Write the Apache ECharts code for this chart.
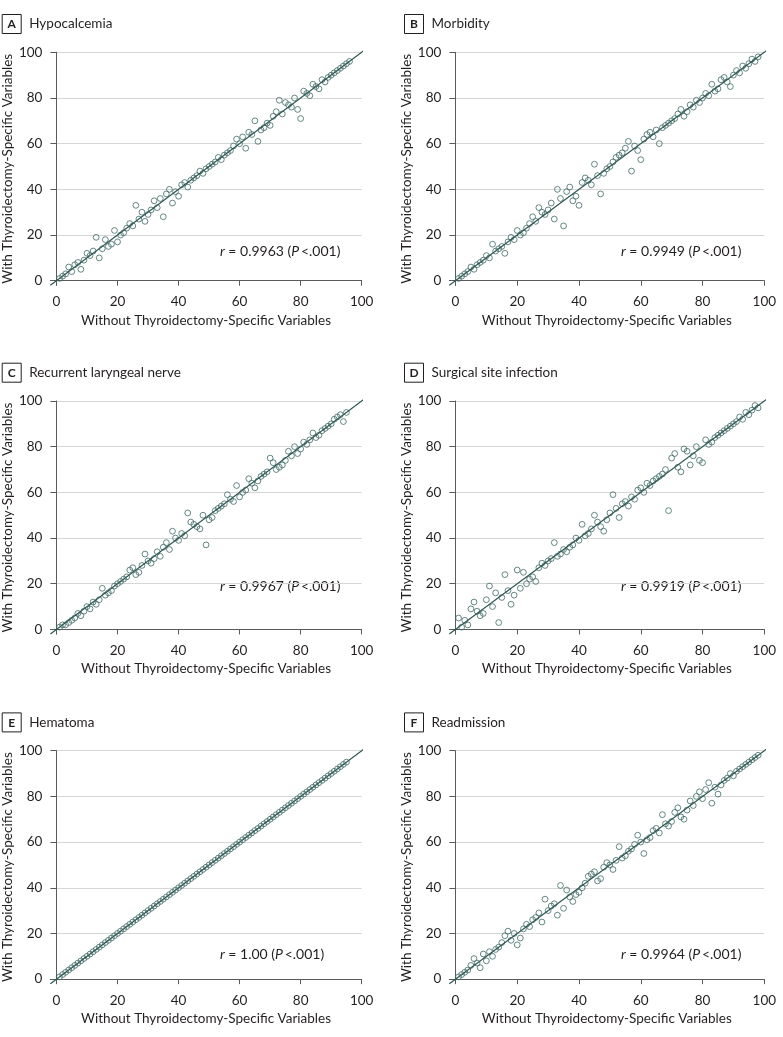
<!DOCTYPE html>
<html>
<head>
<meta charset="utf-8">
<script src="https://cdn.jsdelivr.net/npm/echarts@6/dist/echarts.min.js"></script>
<style>
html,body{margin:0;padding:0;background:#fff;}
#chart{width:783px;height:1037px;}
</style>
</head>
<body>
<div id="chart"></div>
<script>
// ---------------- DATA ----------------
const panelLetters = ['A','B','C','D','E','F'];
const panelTitles = ['Hypocalcemia','Morbidity','Recurrent laryngeal nerve','Surgical site infection','Hematoma','Readmission'];
const rValues = ['0.9963','0.9949','0.9967','0.9919','1.00','0.9964'];
const pText = '.001';
const xAxisName = 'Without Thyroidectomy-Specific Variables';
const yAxisName = 'With Thyroidectomy-Specific Variables';
const tickValues = [0,20,40,60,80,100];
const axisRange = [-2,100];
const identityLine = [-2,101.8];

const hypoX = [1,2,3,4,5,6,7,8,9,10,11,12,13,14,15,16,17,18,19,20,21,22,23,24,25,26,27,28,29,30,31,32,33,34,35,36,37,38,39,40,41,42,43,44,45,46,47,48,49,50,51,52,53,54,55,56,57,58,59,60,61,62,63,64,65,66,67,68,69,70,71,72,73,74,75,76,77,78,79,80,81,82,83,84,85,86,87,88,89,90,91,92,93,94,95,96];
const hypoY = [1,2,3,6,4,7,8,5,9,12,11,13,19,10,14,18,15,16,22,17,20,21,23,25,24,33,27,30,26,29,31,35,32,36,28,38,40,34,39,37,42,43,41,44,45,46,48,47,49,50,51,52,54,53,55,56,57,59,62,60,63,58,65,64,70,61,66,67,69,68,72,74,79,73,78,77,76,80,75,71,83,82,81,86,85,84,88,87,89,90,91,92,93,94,95,96];

const morbX = [1,2,3,4,5,6,7,8,9,10,11,12,13,14,15,16,17,18,19,20,21,22,23,24,25,26,27,28,29,30,31,32,33,34,35,36,37,38,39,40,41,42,43,44,45,46,47,48,49,50,51,52,53,54,55,56,57,58,59,60,61,62,63,64,65,66,67,68,69,70,71,72,73,74,75,76,77,78,79,80,81,82,83,84,85,86,87,88,89,90,91,92,93,94,95,96,97,98];
const morbY = [1,2,3,4,6,5,7,8,9,11,10,16,13,14,15,12,17,19,18,22,20,21,23,25,28,26,32,30,29,31,34,27,40,36,24,39,41,35,37,33,43,45,44,42,51,46,38,47,49,50,52,54,55,56,58,61,48,59,57,53,62,64,65,63,66,60,67,68,69,70,71,73,75,72,74,77,76,79,78,80,82,81,86,83,84,88,89,87,85,90,92,91,94,93,95,97,96,98];

const rlnX = [1,2,3,4,5,6,7,8,9,10,11,12,13,14,15,16,17,18,19,20,21,22,23,24,25,26,27,28,29,30,31,32,33,34,35,36,37,38,39,40,41,42,43,44,45,46,47,48,49,50,51,52,53,54,55,56,57,58,59,60,61,62,63,64,65,66,67,68,69,70,71,72,73,74,75,76,77,78,79,80,81,82,83,84,85,86,87,88,89,90,91,92,93,94,95];
const rlnY = [1,2,2,3,4,5,7,6,8,10,9,12,11,13,18,15,16,17,19,20,21,22,23,26,27,24,25,28,33,30,29,31,34,32,36,38,35,43,40,39,42,41,51,47,46,45,44,50,37,48,49,52,53,54,55,59,57,56,63,58,60,61,66,64,62,65,67,68,69,75,73,70,71,72,74,78,76,80,77,79,82,81,83,86,84,85,87,88,89,90,92,93,94,91,95];

const ssiX = [1,2,3,4,5,6,7,8,9,10,11,12,13,14,15,16,17,18,19,20,21,22,23,24,25,26,27,28,29,30,31,32,33,34,35,36,37,38,39,40,41,42,43,44,45,46,47,48,49,50,51,52,53,54,55,56,57,58,59,60,61,62,63,64,65,66,67,68,69,70,71,72,73,74,75,76,77,78,79,80,81,82,83,84,85,86,87,88,89,90,91,92,93,94,95,96,97,98];
const ssiY = [5,1,4,2,9,12,8,6,7,13,19,10,16,3,14,24,17,11,15,26,18,25,20,22,23,21,27,29,28,30,31,38,32,33,35,34,36,37,40,39,46,41,42,44,50,47,45,43,48,51,59,53,49,55,56,54,58,57,61,62,60,64,63,65,66,67,68,70,52,75,77,71,69,79,78,72,76,80,74,73,83,81,82,84,85,86,87,88,89,90,91,93,92,95,94,96,98,97];

const hemaX = [1,2,3,4,5,6,7,8,9,10,11,12,13,14,15,16,17,18,19,20,21,22,23,24,25,26,27,28,29,30,31,32,33,34,35,36,37,38,39,40,41,42,43,44,45,46,47,48,49,50,51,52,53,54,55,56,57,58,59,60,61,62,63,64,65,66,67,68,69,70,71,72,73,74,75,76,77,78,79,80,81,82,83,84,85,86,87,88,89,90,91,92,93,94,95];
const hemaY = [1,2,3,4,5,6,7,8,9,10,11,12,13,14,15,16,17,18,19,20,21,22,23,24,25,26,27,28,29,30,31,32,33,34,35,36,37,38,39,40,41,42,43,44,45,46,47,48,49,50,51,52,53,54,55,56,57,58,59,60,61,62,63,64,65,66,67,68,69,70,71,72,73,74,75,76,77,78,79,80,81,82,83,84,85,86,87,88,89,90,91,92,93,94,95];

const readX = [1,2,3,4,5,6,7,8,9,10,11,12,13,14,15,16,17,18,19,20,21,22,23,24,25,26,27,28,29,30,31,32,33,34,35,36,37,38,39,40,41,42,43,44,45,46,47,48,49,50,51,52,53,54,55,56,57,58,59,60,61,62,63,64,65,66,67,68,69,70,71,72,73,74,75,76,77,78,79,80,81,82,83,84,85,86,87,88,89,90,91,92,93,94,95,96,97,98];
const readY = [1,2,3,4,6,9,7,5,11,8,12,10,13,14,16,19,21,17,20,15,18,22,24,23,26,27,29,25,35,30,32,33,28,41,31,39,36,34,37,38,40,42,45,46,47,43,44,49,51,50,48,52,58,53,54,56,57,59,63,60,55,61,62,65,66,64,72,68,67,69,73,75,71,70,74,78,76,80,82,79,83,86,77,84,81,85,87,88,90,89,91,92,93,94,95,96,97,98];

const panelX = [hypoX, morbX, rlnX, ssiX, hemaX, readX];
const panelY = [hypoY, morbY, rlnY, ssiY, hemaY, readY];

// ---------------- LAYOUT ----------------
const FONT = 'Lato, "Liberation Sans", sans-serif';
const TXT = '#231f20';
const AXC = '#5a5a5a';
const colLeft = [46.7, 449.3];
const rowTop = [52.3, 401, 750.7];
const gridW = 315, gridH = 233;
const annoPos = [[220,251.7],[621,251.7],[220,586.7],[621,586.7],[220,954],[621,954]];

const grids=[], xAxes=[], yAxes=[], series=[], graphics=[];
for (let i=0;i<6;i++){
  const c=i%2, r=Math.floor(i/2);
  const left=colLeft[c], top=rowTop[r];
  grids.push({left:left, top:top, width:gridW, height:gridH, containLabel:false});
  xAxes.push({
    type:'value', gridIndex:i, min:axisRange[0], max:axisRange[1],
    name:xAxisName, nameLocation:'middle', nameGap:28,
    nameTextStyle:{fontFamily:FONT,fontSize:13.5,color:TXT},
    axisLine:{show:true,lineStyle:{color:AXC,width:1}},
    axisTick:{show:true,length:5,lineStyle:{color:AXC},customValues:tickValues},
    axisLabel:{fontFamily:FONT,fontSize:13.5,color:TXT,margin:9.5,customValues:tickValues},
    splitLine:{show:false}
  });
  yAxes.push({
    type:'value', gridIndex:i, min:axisRange[0], max:axisRange[1],
    name:yAxisName, nameLocation:'middle', nameGap:31, nameRotate:90,
    nameTextStyle:{fontFamily:FONT,fontSize:13.5,color:TXT},
    axisLine:{show:true,lineStyle:{color:AXC,width:1}},
    axisTick:{show:true,length:6,lineStyle:{color:AXC},customValues:tickValues},
    axisLabel:{fontFamily:FONT,fontSize:13.5,color:TXT,margin:8,customValues:tickValues},
    splitLine:{show:true,lineStyle:{color:'#d6d6d6',width:1}}
  });
  const pts = panelX[i].map((x,k)=>[x,panelY[i][k]]);
  series.push({
    type:'line', xAxisIndex:i, yAxisIndex:i, data:[[identityLine[0],identityLine[0]],[identityLine[1],identityLine[1]]],
    symbol:'none', clip:false, lineStyle:{color:'#2e5753',width:1.2}, z:3, silent:true
  });
  series.push({
    type:'scatter', xAxisIndex:i, yAxisIndex:i, data:pts, symbol:'circle', symbolSize:5.8,
    itemStyle:{color:'rgba(255,255,255,0)',borderColor:'#3f6a65',borderWidth:1}, z:2, silent:true
  });
  const boxX = c===0 ? 1.7 : 404;
  const boxY = top - 38.3;
  graphics.push({type:'rect', shape:{x:boxX+0.5,y:boxY+0.5,width:19,height:19}, style:{fill:'#fff',stroke:'#231f20',lineWidth:1}});
  graphics.push({type:'text', x:boxX+10, y:boxY+10.5, style:{text:panelLetters[i],font:'bold 12px '+FONT,fill:TXT,align:'center',verticalAlign:'middle'}});
  graphics.push({type:'text', x:boxX+27.5, y:boxY+10, style:{text:panelTitles[i],font:'13.5px '+FONT,fill:TXT,align:'left',verticalAlign:'middle'}});
  graphics.push({type:'text', x:annoPos[i][0], y:annoPos[i][1], style:{
    text:'{i|r} = '+rValues[i]+' ({i|P}\u2009<'+pText+')',
    font:'14px '+FONT, fill:TXT, align:'left', verticalAlign:'middle',
    rich:{i:{fontStyle:'italic',fontFamily:FONT,fontSize:14,fill:TXT,color:TXT}}
  }});
}

const chart = echarts.init(document.getElementById('chart'),null,{renderer:'canvas'});
chart.setOption({
  backgroundColor:'#fff',
  animation:false,
  grid:grids, xAxis:xAxes, yAxis:yAxes, series:series,
  graphic:graphics
});
</script>
</body>
</html>
